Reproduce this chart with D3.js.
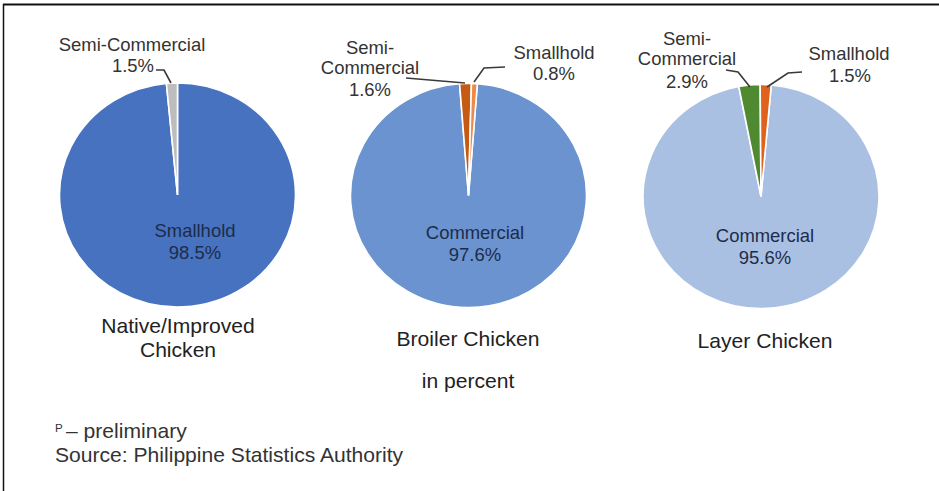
<!DOCTYPE html>
<html>
<head>
<meta charset="utf-8">
<script src="https://cdn.jsdelivr.net/npm/d3@7"></script>
<style>
  html, body { margin: 0; padding: 0; background: #fff; }
  svg { display: block; font-family: "Liberation Sans", Arial, sans-serif; }
</style>
</head>
<body>
<svg id="chart" width="939" height="491"></svg>
<script>
// Poultry production share by farm type, in percent
const chartTitles = [["Native/Improved", "Chicken"], ["Broiler Chicken"], ["Layer Chicken"]];
const nativeSegments = ["Smallhold", "Semi-Commercial"];
const nativeValues = [98.5, 1.5];
const broilerSegments = ["Commercial", "Semi-Commercial", "Smallhold"];
const broilerValues = [97.6, 1.6, 0.8];
const layerSegments = ["Commercial", "Semi-Commercial", "Smallhold"];
const layerValues = [95.6, 2.9, 1.5];
const unitNote = "in percent";
const footnotes = ["– preliminary", "Source: Philippine Statistics Authority"];

const svg = d3.select("#chart");
const W = 939, H = 491;
const stretch = 1.055; // slightly wide letterforms

// frame lines (top and left)
svg.append("line").attr("x1", 3).attr("x2", W).attr("y1", 4.5).attr("y2", 4.5)
  .attr("stroke", "#111").attr("stroke-width", 2);
svg.append("line").attr("x1", 3.5).attr("x2", 3.5).attr("y1", 4).attr("y2", H)
  .attr("stroke", "#111").attr("stroke-width", 1.5);

// multi-line text block anchored at (x, y) baseline of first line
function addText(x, y, lines, opts) {
  const t = svg.append("text")
    .attr("transform", `translate(${x},${y}) scale(${stretch},1)`)
    .attr("text-anchor", opts.anchor || "middle")
    .attr("fill", opts.fill || "#333")
    .attr("font-size", opts.size || 17.5);
  lines.forEach((ln, k) => {
    t.append("tspan").attr("x", 0).attr("y", k * (opts.gap || 21)).text(ln);
  });
  return t;
}

const rx = 118, ry = 112;
const deg = Math.PI / 180;

const pies = [
  {
    names: nativeSegments, values: nativeValues, cx: 177.5, cy: 195, offset: 0,
    colors: ["#4672bf", "#bdbdbd"],
    inside: { index: 0, x: 195, y: 237 },
    callouts: [
      { index: 1, lines: ["Semi-Commercial"], x: 132, y: 51, pct: { x: 133, y: 72 },
        path: [[156, 70], [164, 70], [171, 83]] }
    ],
    title: { lines: chartTitles[0], x: 178, y: 333 }
  },
  {
    names: broilerSegments, values: broilerValues, cx: 468.5, cy: 195.5, offset: 4.3,
    colors: ["#6a93cf", "#c65a14", "#ec8a4a"],
    inside: { index: 0, x: 475, y: 239 },
    callouts: [
      { index: 1, lines: ["Semi-", "Commercial"], x: 370, y: 54, pct: { x: 370, y: 96 },
        path: [[406, 78], [465, 83]] },
      { index: 2, lines: ["Smallhold"], x: 554, y: 59, pct: { x: 554, y: 80 },
        path: [[505, 67], [484, 68], [474, 82]] }
    ],
    title: { lines: chartTitles[1], x: 468, y: 346 }
  },
  {
    names: layerSegments, values: layerValues, cx: 761, cy: 196.5, offset: 5,
    colors: ["#a9c0e3", "#4f8a31", "#e0611c"],
    inside: { index: 0, x: 765, y: 242 },
    callouts: [
      { index: 1, lines: ["Semi-", "Commercial"], x: 687, y: 45, pct: { x: 687, y: 88 },
        path: [[726, 70], [738, 72], [750, 87]] },
      { index: 2, lines: ["Smallhold"], x: 849, y: 60, pct: { x: 850, y: 82 },
        path: [[802, 72], [788, 73], [767, 87]] }
    ],
    title: { lines: chartTitles[2], x: 765, y: 348 }
  }
];

const fmt = v => d3.format(".1f")(v) + "%";

pies.forEach(p => {
  const total = d3.sum(p.values);
  const pieGen = d3.pie().sort(null).value(d => d)
    .startAngle(p.offset * deg).endAngle(p.offset * deg + 2 * Math.PI);
  const arcs = pieGen(p.values);
  const arc = d3.arc().innerRadius(0).outerRadius(rx);

  const g = svg.append("g")
    .attr("transform", `translate(${p.cx},${p.cy}) scale(1,${ry / rx})`);
  g.selectAll("path").data(arcs).join("path")
    .attr("d", arc)
    .attr("fill", (d, i) => p.colors[i])
    .attr("stroke", "#fff")
    .attr("stroke-width", 1.6);

  // label inside the largest slice
  const m = p.inside;
  addText(m.x, m.y, [p.names[m.index], fmt(p.values[m.index] / total * 100)],
    { fill: "#1d2c4a", size: 17.5, gap: 22 });

  // callout labels for the thin slices
  p.callouts.forEach(c => {
    addText(c.x, c.y, c.lines, { size: 17.5, gap: 20 });
    addText(c.pct.x, c.pct.y, [fmt(p.values[c.index])], { size: 17.5 });
    svg.append("path").attr("d", d3.line()(c.path))
      .attr("fill", "none").attr("stroke", "#3a3a3a").attr("stroke-width", 1.6);
  });

  // chart title
  addText(p.title.x, p.title.y, p.title.lines, { fill: "#222", size: 20, gap: 24 });
});

addText(468, 388, [unitNote], { fill: "#222", size: 20 });

// footnotes
addText(55, 432, ["P"], { anchor: "start", size: 11 });
addText(66, 438, [footnotes[0]], { anchor: "start", size: 20 });
addText(55, 462, [footnotes[1]], { anchor: "start", size: 20 });
</script>
</body>
</html>
